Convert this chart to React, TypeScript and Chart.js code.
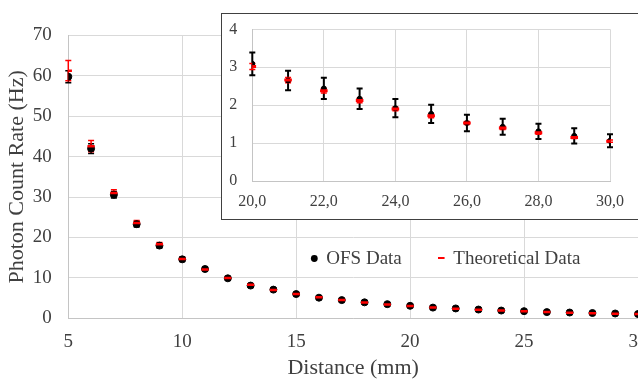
import React, { useEffect, useRef } from "react";
import { Chart, registerables } from "chart.js";

Chart.register(...registerables);

// ---------- data ----------
const distances = [5, 6, 7, 8, 9, 10, 11, 12, 13, 14, 15, 16, 17, 18, 19, 20, 21, 22, 23, 24, 25, 26, 27, 28, 29, 30];
const ofsValues = [59.8, 42.0, 30.6, 23.3, 18.0, 14.6, 12.2, 9.9, 8.1, 7.1, 6.0, 5.1, 4.5, 3.95, 3.5, 3.09, 2.65, 2.44, 2.17, 1.92, 1.77, 1.53, 1.43, 1.31, 1.19, 1.06];
const ofsErrors = [1.5, 1.2, 0.8, 0.7, 0.6, 0.55, 0.5, 0.45, 0.42, 0.4, 0.38, 0.36, 0.34, 0.33, 0.31, 0.3, 0.26, 0.28, 0.27, 0.24, 0.24, 0.22, 0.21, 0.2, 0.2, 0.17];
const theoValues = [61.3, 42.6, 31.0, 23.6, 18.3, 14.7, 12.1, 10.0, 8.3, 7.0, 6.0, 5.2, 4.5, 3.9, 3.4, 3.02, 2.66, 2.38, 2.12, 1.9, 1.72, 1.53, 1.4, 1.27, 1.15, 1.05];
const theoErrors = [2.5, 1.4, 0.8, 0.6, 0.45, 0.35, 0.3, 0.25, 0.2, 0.18, 0.15, 0.13, 0.12, 0.1, 0.09, 0.08, 0.07, 0.06, 0.06, 0.05, 0.05, 0.04, 0.04, 0.04, 0.03, 0.03];

const insetFrom = 20; // inset starts at this distance

const seriesLabels = ["OFS Data", "Theoretical Data"];
const xTitle = "Distance (mm)";
const yTitle = "Photon Count Rate (Hz)";

const SERIF = "'Liberation Serif', 'Times New Roman', serif";
const TEXT = "#404040";
const GRID = "#d9d9d9";
const BORDER = "#c4c4c4";

// ---------- plugins ----------
const errorBarPlugin = {
  id: "errorBars",
  beforeDatasetsDraw(chart: any) {
    const { ctx } = chart;
    const xs = chart.scales.x;
    const ys = chart.scales.y;
    const order = [1, 0];
    ctx.save();
    order.forEach((di) => {
      const ds = chart.data.datasets[di];
      if (!ds || !ds.errorBars) return;
      ctx.strokeStyle = ds.errorColor;
      ctx.lineWidth = ds.errorWidth;
      const cap = ds.errorCap;
      ds.data.forEach((p: any, i: number) => {
        const e = ds.errorBars[i];
        const px = xs.getPixelForValue(p.x);
        const top = ys.getPixelForValue(p.y + e);
        const bot = ys.getPixelForValue(p.y - e);
        ctx.beginPath();
        ctx.moveTo(px, top);
        ctx.lineTo(px, bot);
        ctx.moveTo(px - cap, top);
        ctx.lineTo(px + cap, top);
        ctx.moveTo(px - cap, bot);
        ctx.lineTo(px + cap, bot);
        ctx.stroke();
      });
    });
    ctx.restore();
  },
};

// legend drawn inside the plot area (Excel style)
const innerLegend = {
  id: "innerLegend",
  afterDraw(chart: any) {
    const { ctx } = chart;
    const x0 = 311.8;
    const yMid = 259;
    const gap = 37;
    ctx.save();
    ctx.font = `19px ${SERIF}`;
    ctx.textBaseline = "middle";
    ctx.textAlign = "left";
    ctx.fillStyle = TEXT;
    const items = [chart.data.datasets[1], chart.data.datasets[0]];
    let x = x0;
    items.forEach((ds: any) => {
      const cx = x + 2.5;
      if (ds.pointStyle === "circle") {
        ctx.fillStyle = ds.backgroundColor;
        ctx.beginPath();
        ctx.arc(cx, yMid - 0.5, 3.4, 0, Math.PI * 2);
        ctx.fill();
      } else {
        ctx.strokeStyle = ds.borderColor;
        ctx.lineWidth = 2;
        ctx.beginPath();
        ctx.moveTo(cx - 3.3, yMid - 1);
        ctx.lineTo(cx + 3.3, yMid - 1);
        ctx.stroke();
      }
      ctx.fillStyle = TEXT;
      const tx = x + 5 + 9.5;
      ctx.fillText(ds.label, tx, yMid);
      x = tx + ctx.measureText(ds.label).width + gap;
    });
    ctx.restore();
  },
};

function buildPoints(vals: number[], from = 0) {
  const out: { x: number; y: number }[] = [];
  distances.forEach((d, i) => {
    if (d >= from) out.push({ x: d, y: vals[i] });
  });
  return out;
}
function sliceFrom(vals: number[], from = 0) {
  return vals.filter((_, i) => distances[i] >= from);
}

export default function App() {
  const mainRef = useRef<HTMLCanvasElement>(null);
  const insetRef = useRef<HTMLCanvasElement>(null);

  useEffect(() => {
    if (!mainRef.current || !insetRef.current) return;

    const main = new Chart(mainRef.current, {
      type: "scatter",
      data: {
        datasets: [
          {
            label: seriesLabels[1],
            data: buildPoints(theoValues),
            pointStyle: "line",
            pointRadius: 3.6,
            borderColor: "#ff0000",
            backgroundColor: "#ff0000",
            borderWidth: 2.5,
            pointBorderWidth: 2.5,
            showLine: false,
            errorBars: theoErrors,
            errorColor: "#ff0000",
            errorWidth: 1.5,
            errorCap: 3,
          } as any,
          {
            label: seriesLabels[0],
            data: buildPoints(ofsValues),
            pointStyle: "circle",
            pointRadius: 3.5,
            borderColor: "#000000",
            backgroundColor: "#000000",
            borderWidth: 1,
            showLine: false,
            errorBars: ofsErrors,
            errorColor: "#000000",
            errorWidth: 1.5,
            errorCap: 3,
          } as any,
        ],
      },
      options: {
        animation: false,
        responsive: false,
        layout: { padding: { left: 0, top: 35.5, right: 22, bottom: 0 } },
        plugins: {
          tooltip: { enabled: false },
          legend: { display: false },
        },
        scales: {
          x: {
            type: "linear",
            min: 5,
            max: 30,
            ticks: { stepSize: 5, padding: 12.6, color: TEXT, font: { family: SERIF, size: 19 }, maxRotation: 0 },
            grid: { color: GRID, drawTicks: false },
            border: { color: BORDER },
            title: { display: true, text: xTitle, color: TEXT, font: { family: SERIF, size: 22 }, padding: { top: 0, bottom: 0 } },
            afterFit: (s: any) => {
              s.height = 381 - 318.3;
              s.paddingLeft = 0;
              s.paddingRight = 0;
            },
          },
          y: {
            type: "linear",
            min: 0,
            max: 70,
            ticks: { stepSize: 10, padding: 16.6, color: TEXT, font: { family: SERIF, size: 19 } },
            grid: { color: GRID, drawTicks: false },
            border: { color: BORDER },
            title: { display: true, text: yTitle, color: TEXT, font: { family: SERIF, size: 22 }, padding: { top: 4.3, bottom: 0 } },
            afterFit: (s: any) => {
              s.width = 68.3;
              s.paddingTop = 0;
              s.paddingBottom = 0;
            },
          },
        },
      } as any,
      plugins: [errorBarPlugin, innerLegend],
    });

    const inset = new Chart(insetRef.current, {
      type: "scatter",
      data: {
        datasets: [
          {
            label: seriesLabels[1],
            data: buildPoints(theoValues, insetFrom),
            pointStyle: "line",
            pointRadius: 3.8,
            borderColor: "#ff0000",
            backgroundColor: "#ff0000",
            borderWidth: 3,
            pointBorderWidth: 3,
            showLine: false,
            errorBars: sliceFrom(theoErrors, insetFrom),
            errorColor: "#ff0000",
            errorWidth: 1.5,
            errorCap: 3,
          } as any,
          {
            label: seriesLabels[0],
            data: buildPoints(ofsValues, insetFrom),
            pointStyle: "circle",
            pointRadius: 2.5,
            borderColor: "#000000",
            backgroundColor: "#000000",
            borderWidth: 1,
            showLine: false,
            errorBars: sliceFrom(ofsErrors, insetFrom),
            errorColor: "#000000",
            errorWidth: 2,
            errorCap: 3,
          } as any,
        ],
      },
      options: {
        animation: false,
        responsive: false,
        layout: { padding: { left: 0, top: 15.3, right: 52, bottom: 0 } },
        plugins: { tooltip: { enabled: false }, legend: { display: false } },
        scales: {
          x: {
            type: "linear",
            min: 20,
            max: 30,
            ticks: {
              stepSize: 2,
              padding: 10.9,
              color: TEXT,
              font: { family: SERIF, size: 16 },
              maxRotation: 0,
              autoSkip: false,
              callback: (v: any) => Number(v).toFixed(1).replace(".", ","),
            },
            grid: { color: GRID, drawTicks: false },
            border: { color: BORDER },
            afterFit: (s: any) => {
              s.height = 205 - 167;
              s.paddingLeft = 0;
              s.paddingRight = 0;
            },
          },
          y: {
            type: "linear",
            min: 0,
            max: 4,
            ticks: { stepSize: 1, padding: 15, color: TEXT, font: { family: SERIF, size: 16 } },
            grid: { color: GRID, drawTicks: false },
            border: { color: BORDER },
            afterFit: (s: any) => {
              s.width = 30.3;
              s.paddingTop = 0;
              s.paddingBottom = 0;
            },
          },
        },
      } as any,
      plugins: [errorBarPlugin],
    });

    return () => {
      main.destroy();
      inset.destroy();
    };
  }, []);

  return (
    <div style={{ position: "absolute", left: 0, top: 0, width: 638, height: 381, overflow: "hidden", background: "#fff" }}>
      <canvas ref={mainRef} width={660} height={381} style={{ position: "absolute", left: 0, top: 0, width: 660, height: 381 }} />
      <div
        style={{
          position: "absolute",
          left: 221,
          top: 13,
          width: 460,
          height: 205,
          borderTop: "1px solid #404040",
          borderLeft: "1px solid #404040",
          borderBottom: "1px solid #404040",
          background: "#fff",
        }}
      >
        <canvas ref={insetRef} width={440} height={205} style={{ display: "block", width: 440, height: 205 }} />
      </div>
    </div>
  );
}
